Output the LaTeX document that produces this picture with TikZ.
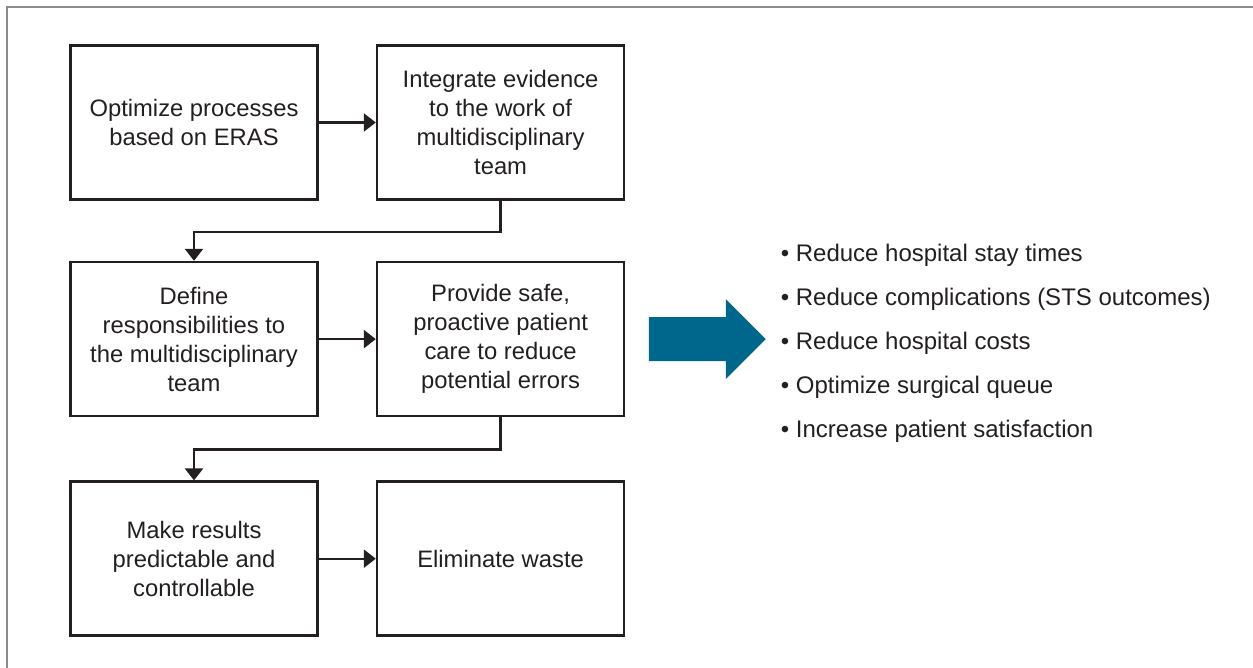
\documentclass[tikz,border=0pt]{standalone}
\usepackage{fontspec}
\setmainfont{Liberation Sans}
\usetikzlibrary{positioning, arrows.meta, shapes.arrows}
\definecolor{ink}{RGB}{35,31,32}
\definecolor{framegray}{RGB}{140,140,140}
\definecolor{arrowblue}{RGB}{0,103,140}
\begin{document}
\begin{tikzpicture}[x=0.5pt, y=-0.5pt, node distance=28.5pt,
    stepbox/.style={draw=ink, line width=1.3pt, minimum width=123.5pt, minimum height=77pt,
        align=center, text=ink, inner sep=0pt, font=\fontsize{11.9}{14.5}\selectfont},
    link/.style={draw=ink, line width=1.2pt, -{Triangle[length=6pt,width=9pt]}},
    bigarrow/.style={single arrow, fill=arrowblue, draw=none, inner xsep=0pt, inner ysep=10.75pt,
        minimum height=58.5pt, single arrow head extend=9pt}]
    \useasboundingbox (0,0) rectangle (1253,668);
    \draw[framegray, line width=1pt] (7,668) -- (7,7) -- (1253,7);

    \node[stepbox] (Optimize) at (194,122.5) {Optimize processes\\based on ERAS};
    \node[stepbox, right=of Optimize] (Integrate) {Integrate evidence\\to the work of\\multidisciplinary\\team};
    \node[stepbox, below=30pt of Optimize] (Define) {Define\\responsibilities to\\the multidisciplinary\\team};
    \node[stepbox, right=of Define] (Provide) {Provide safe,\\proactive patient\\care to reduce\\potential errors};
    \node[stepbox, below=31.5pt of Define] (Predict) {Make results\\predictable and\\controllable};
    \node[stepbox, right=of Predict] (Waste) {Eliminate waste};

    \node[bigarrow, right=11.5pt of Provide] (Flow) {};
    \node[right=7pt of Flow, yshift=-2pt, align=left, text=ink, inner sep=0pt,
        font=\fontsize{12}{22}\selectfont] (Gains)
        {• Reduce hospital stay times\\
         • Reduce complications (STS outcomes)\\
         • Reduce hospital costs\\
         • Optimize surgical queue\\
         • Increase patient satisfaction};

    \draw[link] (Optimize) -- (Integrate);
    \draw[link] (Integrate.south) -- ++(0,-15.5pt) -| (Define.north);
    \draw[link] (Define) -- (Provide);
    \draw[link] (Provide.south) -- ++(0,-16pt) -| (Predict.north);
    \draw[link] (Predict) -- (Waste);
\end{tikzpicture}
\end{document}
